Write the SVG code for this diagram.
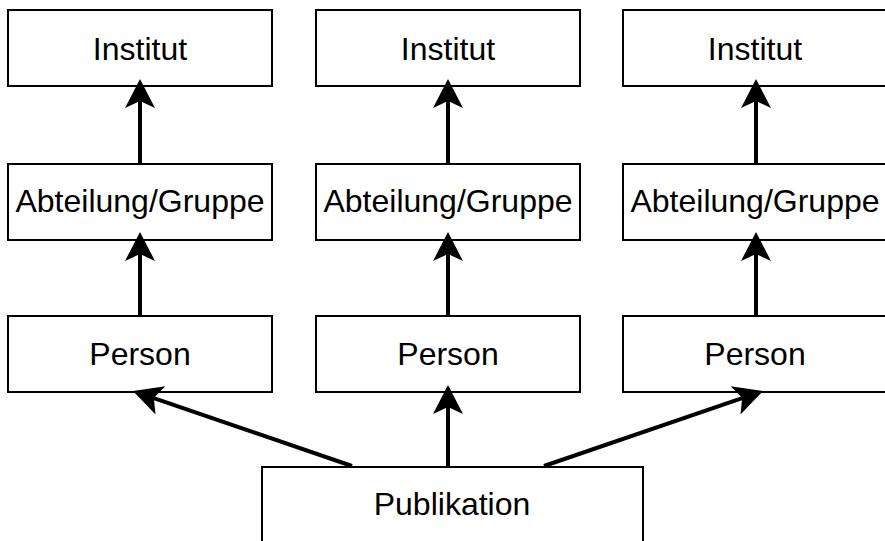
<svg xmlns="http://www.w3.org/2000/svg" width="885" height="541" viewBox="0 0 885 541">
  <style>
    .box { fill: #ffffff; stroke: #000000; stroke-width: 2; }
    .lbl { font-family: "Liberation Sans", Arial, sans-serif; font-size: 32px; fill: #000000; text-anchor: middle; }
    .edge { fill: none; stroke: #000000; stroke-width: 4; }
  </style>
  <defs>
    <marker id="arr" markerUnits="userSpaceOnUse" viewBox="-1 -16 31 32" markerWidth="31" markerHeight="32" refX="7" refY="0" orient="auto">
      <path d="M29,0 L0,-15 L7,0 L0,15 Z" fill="#000000" stroke="none"/>
    </marker>
  </defs>
  <rect width="885" height="541" fill="#ffffff"/>

  <g id="institut1"><rect class="box" x="8" y="10" width="264" height="76"/><text class="lbl" x="140" y="59.5">Institut</text></g>
  <g id="institut2"><rect class="box" x="316" y="10" width="264" height="76"/><text class="lbl" x="448" y="59.5">Institut</text></g>
  <g id="institut3"><rect class="box" x="623" y="10" width="264" height="76"/><text class="lbl" x="755" y="59.5">Institut</text></g>

  <g id="abteilung1"><rect class="box" x="8" y="164" width="264" height="76"/><text class="lbl" x="140" y="212">Abteilung/Gruppe</text></g>
  <g id="abteilung2"><rect class="box" x="316" y="164" width="264" height="76"/><text class="lbl" x="448" y="212">Abteilung/Gruppe</text></g>
  <g id="abteilung3"><rect class="box" x="623" y="164" width="264" height="76"/><text class="lbl" x="755" y="212">Abteilung/Gruppe</text></g>

  <g id="person1"><rect class="box" x="8" y="316" width="264" height="76"/><text class="lbl" x="140" y="365">Person</text></g>
  <g id="person2"><rect class="box" x="316" y="316" width="264" height="76"/><text class="lbl" x="448" y="365">Person</text></g>
  <g id="person3"><rect class="box" x="623" y="316" width="264" height="76"/><text class="lbl" x="755" y="365">Person</text></g>

  <g id="publikation"><rect class="box" x="262" y="467" width="381" height="76"/><text class="lbl" x="452" y="515">Publikation</text></g>

  <g id="connectors">
    <line class="edge" x1="140" y1="164" x2="140" y2="101" marker-end="url(#arr)"/>
    <line class="edge" x1="140" y1="316" x2="140" y2="254" marker-end="url(#arr)"/>
    <line class="edge" x1="448" y1="164" x2="448" y2="101" marker-end="url(#arr)"/>
    <line class="edge" x1="448" y1="316" x2="448" y2="254" marker-end="url(#arr)"/>
    <line class="edge" x1="756" y1="164" x2="756" y2="101" marker-end="url(#arr)"/>
    <line class="edge" x1="756" y1="316" x2="756" y2="254" marker-end="url(#arr)"/>
    <line class="edge" x1="448" y1="466" x2="448" y2="407" marker-end="url(#arr)"/>
    <line class="edge" x1="352" y1="466" x2="153.8" y2="398.1" marker-end="url(#arr)"/>
    <line class="edge" x1="544" y1="466" x2="742.2" y2="398.1" marker-end="url(#arr)"/>
  </g>
</svg>
